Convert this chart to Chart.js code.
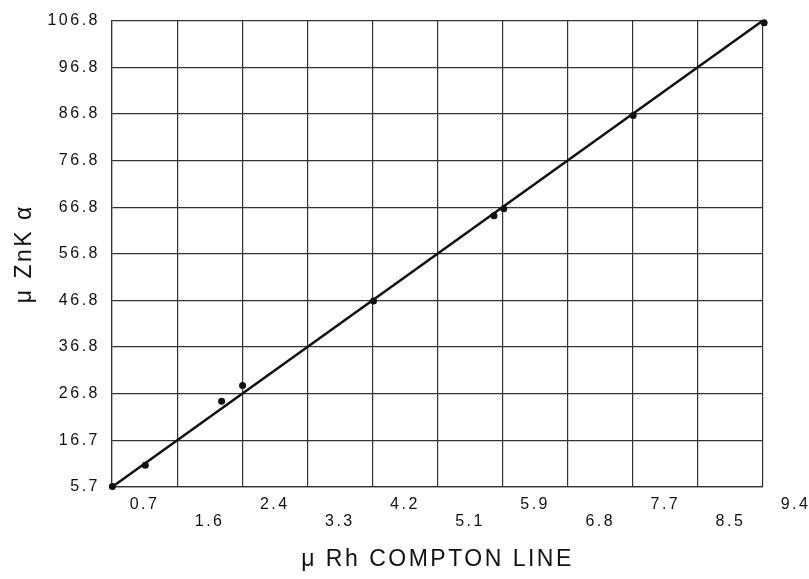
<!DOCTYPE html>
<html>
<head>
<meta charset="utf-8">
<script src="https://cdn.jsdelivr.net/npm/chart.js@4"></script>
<style>
  html, body { margin: 0; padding: 0; background: #fff; }
  #wrap { width: 809px; height: 579px; }
</style>
</head>
<body>
<div id="wrap"><canvas id="myChart"></canvas></div>
<script>
// tick labels as printed on the figure
var xTickLabels = ['0.7', '1.6', '2.4', '3.3', '4.2', '5.1', '5.9', '6.8', '7.7', '8.5', '9.4'];
var yTickLabels = ['5.7', '16.7', '26.8', '36.8', '46.8', '56.8', '66.8', '76.8', '86.8', '96.8', '106.8'];

// axis range (10 grid columns / rows)
var xMin = 0.265, xStep = 0.87, xCols = 10;
var yMin = 5.7, yMax = 106.8, yRows = 10;

// measured points
var pointX = [0.27, 0.71, 1.73, 2.01, 3.76, 5.37, 5.50, 7.23, 8.98];
var pointY = [5.8, 10.4, 24.3, 27.7, 46.0, 64.5, 66.0, 86.2, 106.3];

// fitted line
var lineX = [0.265, 8.965];
var lineY = [5.7, 106.8];

function zip(xs, ys) {
    return xs.map(function (x, i) { return { x: x, y: ys[i] }; });
}

var spacing = {
    id: 'spacing',
    beforeUpdate: function (chart) { chart.ctx.letterSpacing = '2.5px'; },
    beforeLayout: function (chart) { chart.ctx.letterSpacing = '2.5px'; },
    beforeDraw: function (chart) { chart.ctx.letterSpacing = '2.5px'; }
};

var gridColor = '#333';
var tickFont = { family: 'Liberation Sans', size: 16, lineHeight: '17px' };

var ctx = document.getElementById('myChart').getContext('2d');
var chart = new Chart(ctx, {
    type: 'scatter',
    data: {
        datasets: [{
            data: zip(pointX, pointY),
            backgroundColor: '#111',
            borderColor: '#111',
            pointRadius: 3.5,
            pointBorderWidth: 0,
            clip: false,
            order: 1
        }, {
            data: zip(lineX, lineY),
            showLine: true,
            borderColor: '#111',
            borderWidth: 2.5,
            pointRadius: 0,
            order: 2
        }]
    },
    options: {
        responsive: true,
        maintainAspectRatio: false,
        animation: false,
        layout: { padding: { top: 17, right: 46, bottom: 0, left: 0 } },
        plugins: {
            legend: { display: false },
            tooltip: { enabled: false }
        },
        scales: {
            x: {
                type: 'linear',
                min: xMin,
                max: xMin + xStep * xCols,
                afterBuildTicks: function (scale) {
                    scale.ticks = xTickLabels.map(function (l, i) {
                        return { value: xMin + (i + 0.5) * xStep };
                    });
                },
                afterFit: function (scale) {
                    scale.height = 92;
                    scale.paddingLeft = 0;
                    scale.paddingRight = 0;
                },
                grid: { color: gridColor, lineWidth: 1.2, offset: true, drawTicks: false },
                border: { color: gridColor, width: 1.2 },
                ticks: {
                    autoSkip: false,
                    maxRotation: 0,
                    padding: 9.5,
                    color: '#111',
                    font: tickFont,
                    callback: function (v, i) {
                        return i % 2 ? ['', xTickLabels[i]] : xTickLabels[i];
                    }
                },
                title: {
                    display: true,
                    text: 'μ Rh COMPTON LINE',
                    color: '#111',
                    font: { family: 'Liberation Sans', size: 23 },
                    padding: { top: 0, bottom: 6 }
                }
            },
            y: {
                type: 'linear',
                min: yMin,
                max: yMax,
                afterBuildTicks: function (scale) {
                    scale.ticks = yTickLabels.map(function (l, i) {
                        return { value: yMin + i * (yMax - yMin) / yRows };
                    });
                },
                afterFit: function (scale) {
                    scale.width = 112;
                },
                grid: { color: gridColor, lineWidth: 1.2, drawTicks: false },
                border: { color: gridColor, width: 1.2 },
                ticks: {
                    autoSkip: false,
                    padding: 12,
                    color: '#111',
                    font: tickFont,
                    callback: function (v, i) { return yTickLabels[i]; }
                },
                title: {
                    display: true,
                    text: 'μ ZnK α',
                    color: '#111',
                    font: { family: 'Liberation Sans', size: 23 },
                    padding: { top: 11, bottom: 0 }
                }
            }
        }
    },
    plugins: [spacing]
});
</script>
</body>
</html>
